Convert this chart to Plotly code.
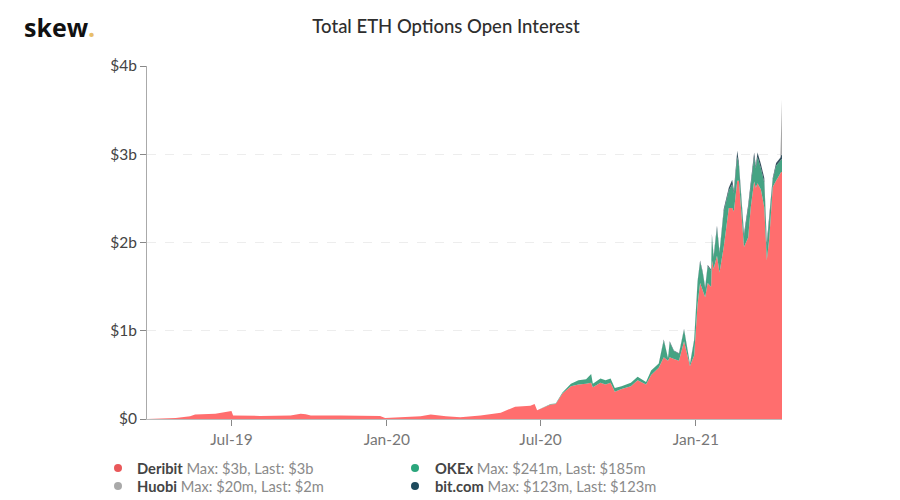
"""Total ETH Options Open Interest, stacked area by exchange ($b)."""
import plotly.graph_objects as go

dates = [
    "2019-03-23", "2019-04-26", "2019-05-13", "2019-05-19", "2019-06-12", "2019-06-27", "2019-07-01", "2019-07-03",
    "2019-08-04", "2019-09-09", "2019-09-21", "2019-09-27", "2019-10-03", "2019-11-07", "2019-12-24", "2019-12-30",
    "2020-01-17", "2020-02-10", "2020-02-22", "2020-03-11", "2020-03-28", "2020-04-21", "2020-05-15", "2020-06-01",
    "2020-06-19", "2020-06-24", "2020-06-27", "2020-07-13", "2020-07-19", "2020-07-27", "2020-08-06", "2020-08-15",
    "2020-08-24", "2020-08-30", "2020-09-01", "2020-09-10", "2020-09-16", "2020-09-22", "2020-09-27", "2020-10-05",
    "2020-10-16", "2020-10-24", "2020-11-03", "2020-11-09", "2020-11-18", "2020-11-24", "2020-11-29", "2020-12-01",
    "2020-12-06", "2020-12-12", "2020-12-18", "2020-12-25", "2020-12-30", "2021-01-03", "2021-01-06", "2021-01-09",
    "2021-01-12", "2021-01-15", "2021-01-19", "2021-01-20", "2021-01-22", "2021-01-26", "2021-01-29", "2021-02-03",
    "2021-02-09", "2021-02-13", "2021-02-15", "2021-02-19", "2021-02-21", "2021-02-25", "2021-02-27", "2021-03-04",
    "2021-03-07", "2021-03-11", "2021-03-13", "2021-03-15", "2021-03-19", "2021-03-23", "2021-03-26", "2021-03-29",
    "2021-04-02", "2021-04-06", "2021-04-11", "2021-04-12", "2021-04-13",
]

deribit = [
    0.0, 0.01, 0.03, 0.05, 0.06, 0.08, 0.09, 0.04,
    0.035, 0.04, 0.06, 0.055, 0.04, 0.04, 0.035, 0.01,
    0.015, 0.03, 0.05, 0.03, 0.02, 0.04, 0.07, 0.14,
    0.15, 0.17, 0.10, 0.165, 0.17, 0.29, 0.37, 0.39,
    0.40, 0.41, 0.36, 0.41, 0.39, 0.41, 0.31, 0.34,
    0.37, 0.44, 0.39, 0.50, 0.58, 0.70, 0.66, 0.70,
    0.68, 0.66, 0.88, 0.60, 0.72, 1.30, 1.54, 1.45,
    1.38, 1.54, 1.50, 1.80, 1.70, 1.85, 1.66, 1.95,
    2.39, 2.39, 2.35, 2.70, 2.70, 2.20, 1.95, 2.06,
    2.40, 2.69, 2.62, 2.67, 2.60, 2.40, 1.80, 2.05,
    2.63, 2.70, 2.79, 2.80, 2.80,
]

okex = [
    0.0, 0.0, 0.0, 0.0, 0.0, 0.0, 0.0, 0.0,
    0.0, 0.0, 0.0, 0.0, 0.0, 0.0, 0.0, 0.0,
    0.0, 0.0, 0.0, 0.0, 0.0, 0.0, 0.0, 0.0,
    0.0, 0.0, 0.0, 0.005, 0.005, 0.01, 0.03, 0.05,
    0.05, 0.10, 0.04, 0.05, 0.05, 0.05, 0.04, 0.03,
    0.04, 0.04, 0.03, 0.05, 0.05, 0.19, 0.03, 0.17,
    0.09, 0.08, 0.13, 0.02, 0.17, 0.25, 0.24, 0.21,
    0.10, 0.19, 0.18, 0.27, 0.13, 0.31, 0.22, 0.40,
    0.20, 0.27, 0.21, 0.27, 0.17, 0.10, 0.12, 0.33,
    0.26, 0.28, 0.22, 0.30, 0.24, 0.28, 0.15, 0.20,
    0.08, 0.17, 0.14, 0.15, 0.15,
]

bitcom = [
    0.0, 0.0, 0.0, 0.0, 0.0, 0.0, 0.0, 0.0,
    0.0, 0.0, 0.0, 0.0, 0.0, 0.0, 0.0, 0.0,
    0.0, 0.0, 0.0, 0.0, 0.0, 0.0, 0.0, 0.0,
    0.0, 0.0, 0.0, 0.0, 0.0, 0.0, 0.0, 0.0,
    0.0, 0.0, 0.0, 0.0, 0.0, 0.0, 0.0, 0.0,
    0.0, 0.0, 0.0, 0.0, 0.0, 0.01, 0.0, 0.01,
    0.005, 0.005, 0.01, 0.005, 0.01, 0.01, 0.015, 0.015,
    0.015, 0.015, 0.015, 0.025, 0.015, 0.03, 0.015, 0.03,
    0.03, 0.05, 0.03, 0.07, 0.03, 0.02, 0.03, 0.04,
    0.03, 0.05, 0.03, 0.05, 0.05, 0.05, 0.05, 0.04,
    0.02, 0.03, 0.03, 0.04, 0.05,
]

huobi = [
    0.0, 0.0, 0.0, 0.0, 0.0, 0.0, 0.0, 0.0,
    0.0, 0.0, 0.0, 0.0, 0.0, 0.0, 0.0, 0.0,
    0.0, 0.0, 0.0, 0.0, 0.0, 0.0, 0.0, 0.0,
    0.0, 0.0, 0.0, 0.0, 0.0, 0.0, 0.0, 0.0,
    0.0, 0.0, 0.0, 0.0, 0.0, 0.0, 0.0, 0.0,
    0.0, 0.0, 0.0, 0.0, 0.0, 0.0, 0.0, 0.0,
    0.002, 0.002, 0.002, 0.002, 0.002, 0.002, 0.002, 0.002,
    0.002, 0.002, 0.002, 0.002, 0.002, 0.002, 0.002, 0.002,
    0.002, 0.002, 0.002, 0.002, 0.002, 0.002, 0.002, 0.002,
    0.002, 0.002, 0.002, 0.002, 0.002, 0.002, 0.002, 0.002,
    0.002, 0.002, 0.002, 0.3, 0.62,
]

series_names = ["Deribit", "OKEx", "bit.com", "Huobi"]
series_values = [deribit, okex, bitcom, huobi]
series_colors = ["#FF6E6E", "#45A383", "#33505F", "#A8A8A8"]

y_ticks = [0, 1, 2, 3, 4]
y_labels = ["$0", "$1b", "$2b", "$3b", "$4b"]
x_ticks = ["2019-07-01", "2020-01-01", "2020-07-01", "2021-01-01"]
x_labels = ["Jul-19", "Jan-20", "Jul-20", "Jan-21"]

legend_names = ["Deribit", "Huobi", "OKEx", "bit.com"]
legend_infos = ["Max: $3b, Last: $3b", "Max: $20m, Last: $2m", "Max: $241m, Last: $185m", "Max: $123m, Last: $123m"]
legend_colors = ["#E9585A", "#A9A9A9", "#2BA67C", "#1D4A5C"]
legend_marker_x = [118, 118, 415, 415]
legend_text_x = [135, 135, 433, 433]
legend_y = [468, 486, 468, 486]

# the page has an 8px body margin, so everything is placed 8px up and left
OFF = 8
W, H = 900 - OFF, 500 - OFF
L, R, T, B = 147 - OFF, 782 - OFF, 66 - OFF, 419 - OFF


def px(x):
    return (x - OFF - L) / (R - L)


def py(y):
    return (B - (y - OFF)) / (B - T)


fig = go.Figure()
for name, vals, color in zip(series_names, series_values, series_colors):
    fig.add_trace(go.Scatter(
        x=dates, y=vals, name=name, mode="lines", stackgroup="one",
        line=dict(width=0, color=color), fillcolor=color,
    ))

annotations = [
    dict(text="<b>skew</b><span style='color:#E8BE6A'><b>.</b></span>", x=px(22), y=py(27),
         xref="paper", yref="paper", xanchor="left", yanchor="middle",
         showarrow=False, font=dict(family="Open Sans", size=25, color="#111111")),
]
shapes = []
for name, info, color, mx, tx, my in zip(legend_names, legend_infos, legend_colors, legend_marker_x, legend_text_x, legend_y):
    annotations.append(dict(
        text=f"<b>{name}</b> <span style='color:#8A8A8A'>{info}</span>",
        x=px(tx), y=py(my), xref="paper", yref="paper", xanchor="left", yanchor="middle", showarrow=False,
        font=dict(family="Lato", size=14.7, color="#444444"),
    ))
    shapes.append(dict(
        type="circle", xref="paper", yref="paper", line_width=0, fillcolor=color,
        x0=px(mx - 4), x1=px(mx + 4), y0=py(my + 4), y1=py(my - 4),
    ))

fig.update_layout(
    width=W, height=H,
    margin=dict(l=L, r=W - R, t=T, b=H - B),
    template="plotly_white",
    paper_bgcolor="white", plot_bgcolor="white",
    showlegend=False,
    title=dict(text="Total ETH Options Open Interest", x=(446 - OFF) / W, xanchor="center",
               y=1 - (27 - OFF) / H, yanchor="middle",
               font=dict(family="Lato", size=18.5, color="#2E2E2E", weight=500)),
    font=dict(family="Lato"),
    annotations=annotations,
    shapes=shapes,
    xaxis=dict(
        range=["2019-03-23", "2021-04-13"], tickvals=x_ticks, ticktext=x_labels, showgrid=False, zeroline=False,
        showline=True, linecolor="#BBBBBB", ticks="outside", ticklen=6, tickcolor="#888888",
        tickfont=dict(family="Lato", size=15.5, color="#777777"),
    ),
    yaxis=dict(
        range=[0, 4], tickvals=y_ticks, ticktext=y_labels, showgrid=True, gridcolor="#EDEDED", griddash="dash",
        zeroline=False, showline=True, linecolor="#AAAAAA", ticks="outside", ticklen=6, tickcolor="#888888",
        tickfont=dict(family="Lato", size=15.5, color="#444444"),
    ),
)

fig.write_html("out.html")
